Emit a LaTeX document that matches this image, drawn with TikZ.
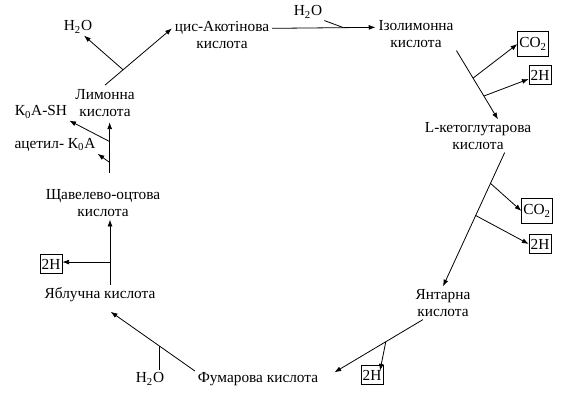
\documentclass[tikz,border=0pt]{standalone}
\usepackage{fontspec}
\setmainfont{Liberation Serif}
\usepackage{tikz}
\usetikzlibrary{arrows.meta,positioning,calc}
\tikzset{
  acid/.style={align=center, inner sep=2pt, font=\fontsize{11.5}{12.8}\selectfont},
  side/.style={inner sep=1.5pt, font=\fontsize{11.5}{12.8}\selectfont},
  sidebox/.style={draw, thin, inner sep=1.2pt, minimum height=14pt, font=\fontsize{11.5}{12.8}\selectfont},
  gasbox/.style={sidebox, minimum height=19pt},
  wire/.style={-{Latex[length=1.8mm,width=1.3mm]}, line width=0.6pt},
  tap/.style={line width=0.6pt}
}
\begin{document}
\begin{tikzpicture}[x=0.75pt,y=-0.75pt]
  \useasboundingbox (0,0) rectangle (563,405);
  % acids of the cycle
  \node[acid] (cis) at (222,35) {цис-Акотінова\\кислота};
  \node[acid] (izo) at (416,34) {Ізолимонна\\кислота};
  \node[acid] (keto) at (478,136) {L-кетоглутарова\\кислота};
  \node[acid] (yant) at (443,303) {Янтарна\\кислота};
  \node[acid] (fum) at (258,379) {Фумарова кислота};
  \node[acid] (yabl) at (100,295) {Яблучна кислота};
  \node[acid] (shch) at (103,203) {Щавелево-оцтова\\кислота};
  \node[acid] (lim) at (105,103) {Лимонна\\кислота};
  % side products
  \node[side] (h2oA) at (78,27) {H\textsubscript{2}O};
  \node[side] (h2oB) at (308,12) {H\textsubscript{2}O};
  \node[side] (h2oC) at (150,379) {H\textsubscript{2}O};
  \node[side] (koash) at (41,112) {К\textsubscript{0}А-SH};
  \node[side] (acetyl) at (55,145) {ацетил- К\textsubscript{0}А};
  \node[gasbox] (co2A) at (533,44) {CO\textsubscript{2}};
  \node[sidebox] (hA) at (540,75) {2H};
  \node[gasbox] (co2B) at (537,211) {CO\textsubscript{2}};
  \node[sidebox] (hB) at (540,244) {2H};
  \node[sidebox] (hC) at (372,375) {2H};
  \node[sidebox] (hD) at (51,264) {2H};

  % cycle
  \draw[wire] ([yshift=1pt]lim.north) -- coordinate[pos=0.27] (t1) ([yshift=5pt]cis.west);
  \draw[wire] (t1) -- (h2oA.-55);
  \draw[wire] ([yshift=5pt]cis.east) -- coordinate[pos=0.69] (t2) ([yshift=5pt]izo.west);
  \draw[tap] (h2oB.south east) -- (t2);
  \draw[wire] (izo.south east) -- coordinate[pos=0.4] (t3) coordinate[pos=0.66] (t4)
    ([xshift=15pt]keto.north);
  \draw[wire] (t3) -- (co2A.west);
  \draw[wire] (t4) -- ([yshift=-3pt]hA.west);
  \draw[wire] ([xshift=20pt]keto.south) -- coordinate[pos=0.23] (t5) coordinate[pos=0.47] (t6)
    (yant.north);
  \draw[wire] (t5) -- (co2B.west);
  \draw[wire] (t6) -- (hB.west);
  \draw[wire] ([xshift=-15pt]yant.south) -- coordinate[pos=0.42] (t7)
    ([xshift=10pt,yshift=5pt]fum.east);
  \draw[wire] (t7) -- ([xshift=6pt,yshift=-4pt]hC.north);
  \draw[wire] ([yshift=6pt]fum.west) -- coordinate[pos=0.42] (t8)
    ([xshift=8pt,yshift=-5pt]yabl.south);
  \draw[tap] (t8) -- (t8 |- h2oC.north);
  \draw[wire] ([xshift=7.5pt]yabl.north) -- coordinate[pos=0.35] (t9)
    ([xshift=7.5pt]yabl.north |- shch.south);
  \draw[wire] (t9) -- (t9 -| hD.east);
  \coordinate (s0) at ([xshift=5pt,yshift=10pt]shch.north);
  \draw[wire] (s0) -- coordinate[pos=0.62] (t10) coordinate[pos=0.21] (t11)
    ([yshift=-2pt]s0 |- lim.south);
  \draw[wire] (t10) -- (koash.south east);
  \draw[wire] (t11) -- (acetyl.south east);
\end{tikzpicture}
\end{document}
